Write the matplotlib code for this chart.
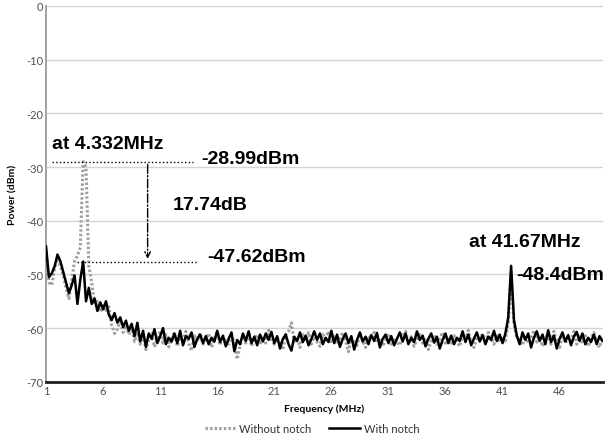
import numpy as np
import matplotlib
matplotlib.use("Agg")
import matplotlib.pyplot as plt

# spectrum, 0.25 MHz steps from 1 MHz (one row = one MHz)
without_notch = [
    -45.5, -51.5, -52.0, -49.0,   # 1
    -47.0, -48.5, -50.0, -52.5,   # 2
    -54.5, -51.0, -47.5, -46.5,   # 3
    -45.0, -29.0, -30.0, -48.5,   # 4
    -51.5, -55.5, -55.0, -57.0,   # 5
    -55.8, -57.0, -56.0, -59.5,   # 6
    -61.0, -60.2, -58.5, -60.8,   # 7
    -59.5, -61.2, -60.0, -62.5,   # 8
    -60.8, -63.0, -61.0, -64.0,   # 9
    -62.0, -61.0, -63.5, -62.0,   # 10
    -60.5, -62.8, -61.2, -63.5,   # 11
    -62.0, -60.8, -63.4, -61.6,   # 12
    -62.4, -60.6, -62.8, -64.2,   # 13
    -61.4, -62.6, -60.9, -63.0,   # 14
    -62.2, -61.0, -63.6, -62.0,   # 15
    -60.6, -63.2, -61.8, -62.4,   # 16
    -63.0, -61.4, -62.6, -65.8,   # 17
    -63.2, -61.6, -62.8, -60.8,   # 18
    -63.4, -62.0, -61.2, -63.0,   # 19
    -61.6, -62.8, -60.4, -62.2,   # 20
    -63.0, -61.8, -62.6, -64.0,   # 21
    -61.2, -60.6, -59.0, -62.8,   # 22
    -61.8, -63.6, -61.2, -62.4,   # 23
    -60.8, -63.0, -61.6, -62.6,   # 24
    -63.4, -61.2, -62.0, -60.6,   # 25
    -62.8, -61.6, -63.0, -62.0,   # 26
    -60.8, -62.4, -64.4, -61.8,   # 27
    -62.6, -63.2, -61.0, -62.4,   # 28
    -63.6, -61.4, -62.0, -60.8,   # 29
    -62.6, -61.8, -63.4, -62.2,   # 30
    -61.0, -63.0, -61.8, -62.6,   # 31
    -63.2, -61.4, -60.6, -62.8,   # 32
    -61.6, -63.4, -62.0, -61.2,   # 33
    -62.8, -61.8, -64.0, -62.4,   # 34
    -61.2, -63.0, -62.0, -60.8,   # 35
    -63.2, -61.6, -62.8, -61.4,   # 36
    -62.6, -63.4, -61.0, -62.2,   # 37
    -60.4, -62.8, -63.6, -61.6,   # 38
    -62.4, -61.0, -62.8, -60.8,   # 39
    -61.8, -63.0, -61.4, -62.6,   # 40
    -61.6, -62.4, -59.0, -49.5,   # 41
    -59.2, -62.0, -61.6, -63.2,   # 42
    -61.4, -62.8, -61.8, -60.4,   # 43
    -62.6, -61.6, -63.4, -62.0,   # 44
    -61.0, -63.0, -60.6, -62.4,   # 45
    -63.6, -61.2, -62.8, -61.8,   # 46
    -62.4, -60.6, -63.0, -61.6,   # 47
    -62.8, -61.4, -63.4, -62.0,   # 48
    -60.8, -62.6, -63.6, -61.6,   # 49
]

with_notch = [
    -44.8, -50.5, -49.8, -48.5,   # 1
    -46.3, -47.5, -49.5, -51.5,   # 2
    -53.5, -52.0, -50.2, -55.5,   # 3
    -51.0, -47.6, -55.0, -52.5,   # 4
    -55.5, -54.5, -56.8, -55.2,   # 5
    -56.5, -55.0, -57.5, -58.5,   # 6
    -57.2, -59.0, -58.0, -59.8,   # 7
    -58.6, -60.5, -59.2, -61.5,   # 8
    -59.0, -62.5, -60.5, -63.5,   # 9
    -61.0, -62.0, -60.2, -62.8,   # 10
    -61.5, -60.0, -63.0, -61.8,   # 11
    -62.5, -61.0, -62.8, -60.5,   # 12
    -63.2, -61.5, -62.0, -60.8,   # 13
    -63.5, -62.0, -61.2, -62.8,   # 14
    -61.5, -63.0, -61.8, -62.5,   # 15
    -60.5, -62.6, -61.4, -63.4,   # 16
    -62.0, -60.8, -64.3, -62.2,   # 17
    -63.0, -61.0, -62.4, -60.6,   # 18
    -62.8, -61.6, -63.2, -61.2,   # 19
    -62.5, -61.0, -62.2, -60.7,   # 20
    -62.8, -61.5, -63.8, -62.0,   # 21
    -61.2, -63.0, -64.2, -61.6,   # 22
    -62.4, -60.8, -62.6, -61.4,   # 23
    -63.2, -62.0, -60.6, -62.2,   # 24
    -61.0, -63.0, -61.8, -62.6,   # 25
    -60.5, -62.8, -61.2, -63.5,   # 26
    -62.0, -61.0, -62.8, -61.5,   # 27
    -64.0, -62.2, -60.8, -62.5,   # 28
    -61.6, -63.0, -61.3, -62.4,   # 29
    -60.9, -63.6, -62.0, -61.2,   # 30
    -62.8, -61.5, -63.2, -62.0,   # 31
    -60.8, -62.5, -61.0, -63.0,   # 32
    -61.8, -62.6, -60.6, -62.2,   # 33
    -61.4, -63.4, -62.0, -61.0,   # 34
    -62.7, -61.6, -63.8, -62.2,   # 35
    -61.0, -62.8, -61.4, -63.0,   # 36
    -61.8, -62.4, -60.6, -62.6,   # 37
    -61.2, -63.2, -61.9, -60.8,   # 38
    -62.5, -61.3, -63.0, -61.6,   # 39
    -62.2, -60.5, -62.4, -61.2,   # 40
    -62.8, -61.0, -58.0, -48.4,   # 41
    -58.5, -61.4, -63.0, -60.8,   # 42
    -62.2, -61.0, -63.6, -61.8,   # 43
    -60.6, -62.4, -61.2, -63.0,   # 44
    -60.4, -62.6, -61.4, -63.8,   # 45
    -62.0, -60.8, -62.5, -61.3,   # 46
    -63.2, -61.6, -60.7, -62.4,   # 47
    -61.0, -63.0, -61.8, -62.6,   # 48
    -61.2, -63.0, -61.5, -62.4,   # 49
]

freq = 1 + 0.25 * np.arange(len(with_notch))
x_ticks = [1, 6, 11, 16, 21, 26, 31, 36, 41, 46]
y_ticks = [0, -10, -20, -30, -40, -50, -60, -70]

peak_freq = 4.332
peak_before = -28.99
peak_after = -47.62
spur_freq = 41.67
spur_level = -48.4

plt.rcParams['font.family'] = ['Lato', 'DejaVu Sans']
plt.rcParams['axes.unicode_minus'] = False

fig = plt.figure(figsize=(6.06, 4.35), dpi=100)
ax = fig.add_axes([0.076, 0.12, 0.919, 0.864])

ax.plot(freq, without_notch, color='#a0a0a0', linestyle=(0, (0.8, 0.7)), linewidth=2.2,
        label='Without notch', zorder=2)
ax.plot(freq, with_notch, color='black', linewidth=1.8, label='With notch', zorder=3)

ax.set_xlim(1, 49.8)
ax.set_ylim(-70, 0)
ax.set_xticks(x_ticks)
ax.set_yticks(y_ticks)
ax.tick_params(length=0, labelsize=8, colors='#505050', pad=2)
ax.yaxis.grid(True, color='#d4d4d4', linewidth=1)
ax.set_axisbelow(True)

for s in ['top', 'right']:
    ax.spines[s].set_visible(False)
ax.spines['left'].set_color('#9a9a9a')
ax.spines['left'].set_linewidth(1.3)
ax.spines['bottom'].set_color('#202020')
ax.spines['bottom'].set_linewidth(2)

ax.set_xlabel('Frequency (MHz)', fontsize=7.5, fontweight='bold', labelpad=6)
ax.set_ylabel('Power (dBm)', fontsize=7.5, fontweight='bold', labelpad=6)

# annotations
afont = dict(fontsize=14, fontweight='bold', family=['Liberation Sans', 'DejaVu Sans'])
ax.plot([1.5, 13.85], [peak_before, peak_before], color='black', linestyle=':', linewidth=1)
ax.plot([3.7, 14.2], [peak_after, peak_after], color='black', linestyle=':', linewidth=1)
ax.annotate('', xy=(9.9, peak_after), xytext=(9.9, peak_before),
            arrowprops=dict(arrowstyle='->', linestyle='-.', color='black', lw=1))
ax.text(1.5, -25.6, 'at 4.332MHz', ha='left', va='center', **afont)
ax.text(14.6, -28.4, '-28.99dBm', ha='left', va='center', **afont)
ax.text(12.1, -36.9, '17.74dB', ha='left', va='center', **afont)
ax.text(15.1, -46.7, '-47.62dBm', ha='left', va='center', **afont)
ax.text(38.1, -43.9, 'at 41.67MHz', ha='left', va='center', **afont)
ax.text(42.2, -50.0, '-48.4dBm', ha='left', va='center', **afont)

fig.legend(loc='lower center', bbox_to_anchor=(0.515, -0.022), ncol=2, frameon=False,
           fontsize=8, handlelength=2.8, columnspacing=1.6, handletextpad=0.3,
           labelcolor='#303030')

fig.savefig('out.png', dpi=100)
